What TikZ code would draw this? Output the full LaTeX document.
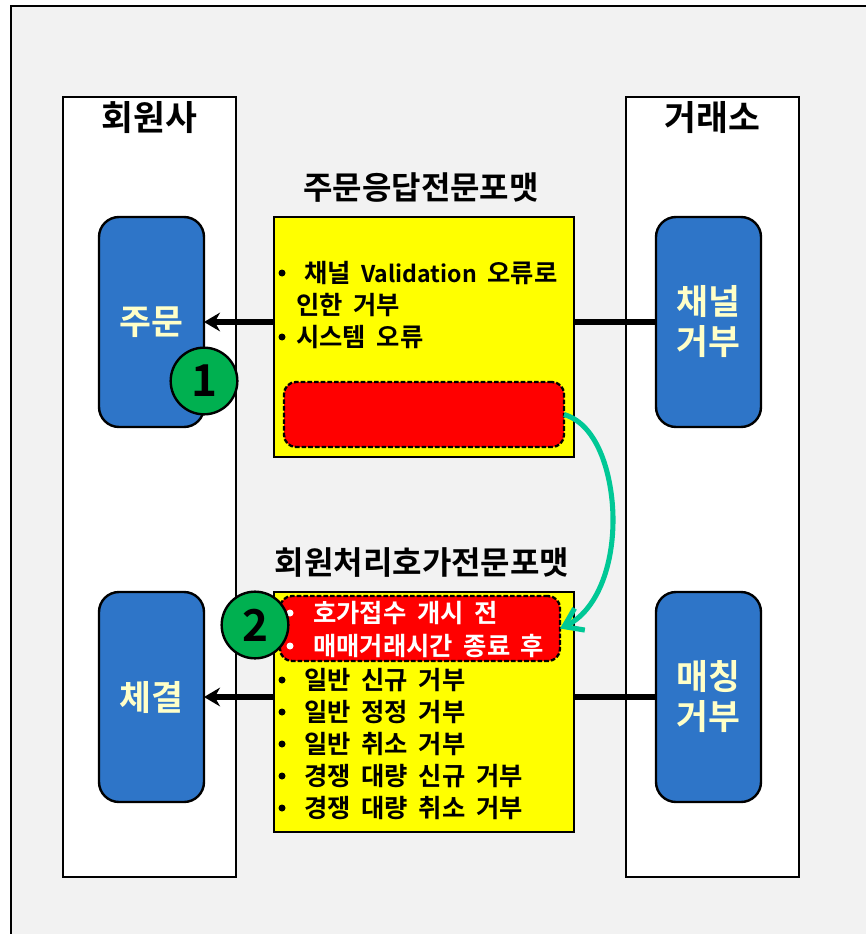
\documentclass[tikz,border=0pt]{standalone}
\usepackage{fontspec}
\setmainfont{Noto Sans CJK KR}[BoldFont={Noto Sans CJK KR Bold}]
\usetikzlibrary{arrows.meta}
\definecolor{panelgray}{HTML}{F2F2F2}
\definecolor{nodeblue}{HTML}{2E75C8}
\definecolor{badgegreen}{HTML}{00B050}
\definecolor{curveteal}{HTML}{00C896}
\definecolor{lightyellow}{HTML}{FFFFC8}
\definecolor{boxyellow}{HTML}{FFFF00}
\definecolor{boxred}{HTML}{FF0000}
\tikzset{
  sidebox/.style={draw=black,line width=1.8pt,fill=white,minimum width=129.75pt,minimum height=585pt,inner sep=0pt,outer sep=0pt},
  blockbox/.style={draw=black,line width=1.8pt,fill=nodeblue,rounded corners=15pt,minimum width=78.75pt,minimum height=157.5pt,align=center,text=lightyellow,font=\fontsize{26}{30}\selectfont\bfseries,inner sep=0pt,outer sep=0pt},
  yellowbox/.style={draw=black,line width=1.8pt,fill=boxyellow,minimum width=225pt,inner sep=0pt,outer sep=0pt},
  redbox/.style={draw=black,line width=1.7pt,dash pattern=on 3.5pt off 1.5pt,fill=boxred,
    preaction={draw=boxyellow,solid},minimum width=210pt,minimum height=48.75pt,rounded corners=9pt,inner sep=0pt,outer sep=0pt},
  badge/.style={circle,draw=black,line width=1.8pt,fill=badgegreen,minimum size=50pt,inner sep=0pt,font=\fontsize{33}{33}\selectfont\bfseries},
  headtext/.style={font=\fontsize{26}{26}\selectfont\bfseries},
  titletext/.style={font=\fontsize{24}{24}\selectfont\bfseries},
  itemtext/.style={anchor=west,inner sep=0pt,font=\fontsize{19}{19}\selectfont\bfseries,execute at begin node={\spaceskip=0.42em\relax}},
}
\begin{document}
\begin{tikzpicture}[x=0.75pt,y=-0.75pt]
\useasboundingbox (0,0) rectangle (865,934);
\fill[white] (0,0) rectangle (865,934);
\draw[line width=1.8pt,fill=panelgray] (11,6) rectangle (885,960);

% side panels
\node[sidebox] (member) at (149.5,487) {};
\node[sidebox] (exchange) at (712.5,487) {};
\node[headtext] (membertitle) at (149.5,118) {회원사};
\node[headtext] (exchangetitle) at (712.5,118) {거래소};

% blue blocks
\node[blockbox] (order) at (151.5,322) {주문};
\node[blockbox] (fill) at (151.5,697) {체결};
\node[blockbox] (chanreject) at (708.5,322) {채널\\거부};
\node[blockbox] (matchreject) at (708.5,697) {매칭\\거부};

% message formats
\node[titletext] (resptitle) at (421,188) {주문응답전문포맷};
\node[titletext] (canceltitle) at (422,563) {회원처리호가전문포맷};
\node[yellowbox,minimum height=180pt] (resp) at (424,337) {};
\node[yellowbox,minimum height=180pt] (cancel) at (424,712) {};
\node[redbox] (redtop) at (424,414.5) {};
\node[redbox] (redbottom) at (420,628.5) {};

% connectors
\draw[line width=4pt,-{Stealth[length=12pt,width=14pt]}] (resp.west |- order.east) -- (order.east);
\draw[line width=4pt] (resp.east |- chanreject.west) -- (chanreject.west);
\draw[line width=4pt,-{Stealth[length=12pt,width=14pt]}] (cancel.west |- fill.east) -- (fill.east);
\draw[line width=4pt] (cancel.east |- matchreject.west) -- (matchreject.west);
\draw[curveteal,line width=3.8pt,-{Straight Barb[length=13pt,width=18pt,line width=3.8pt]}]
  (redtop.east) .. controls (600,425) and (613,480) .. (613,520)
  .. controls (613,570) and (595,612) .. (redbottom.east);

% bullet lists
\foreach \x/\y/\t/\n in {304/273/{채널 {\fontsize{17.3}{19}\selectfont Validation} 오류로}/a,296/305/{인한 거부}/b,296/337/{시스템 오류}/c}
  \node[itemtext] (resp\n) at (\x,\y) {\t};
\foreach \y/\n in {273/a,337/c}
  \fill (282,\y) circle (3.5) coordinate (respdot\n);
\foreach \y/\t/\n in {680/{일반 신규 거부}/a,712/{일반 정정 거부}/b,744/{일반 취소 거부}/c,776/{경쟁 대량 신규 거부}/d,808/{경쟁 대량 취소 거부}/e} {
  \node[itemtext] (cancel\n) at (304,\y) {\t};
  \fill (282,\y) circle (3.5);
}
\foreach \y/\t/\n in {613/{호가접수 개시 전}/a,646/{매매거래시간 종료 후}/b} {
  \node[itemtext,text=white] (red\n) at (313,\y) {\t};
  \fill[white] (290,\y) circle (3.5);
}

% badges
\node[badge] (one) at (204,381) {1};
\node[badge] (two) at (255,625) {2};
\end{tikzpicture}
\end{document}
